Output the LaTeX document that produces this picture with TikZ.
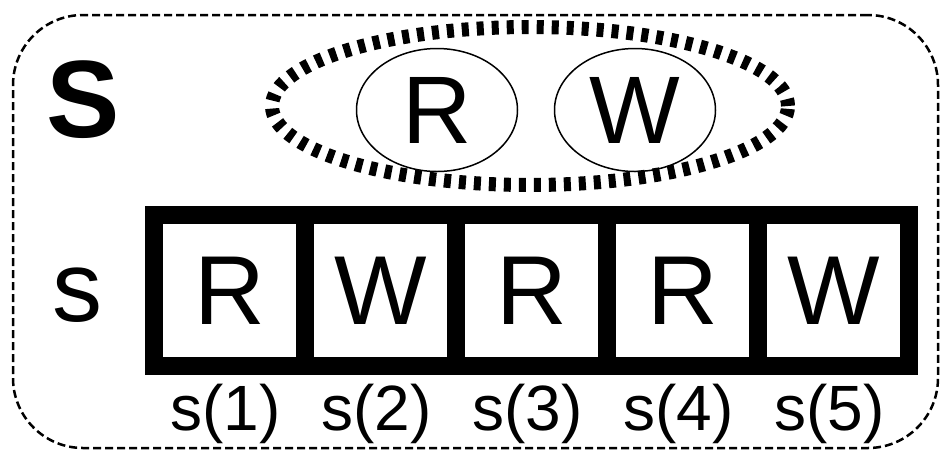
\documentclass[tikz,border=0pt]{standalone}
\usepackage{fontspec}
\setmainfont{Liberation Sans}
\usetikzlibrary{positioning,shapes.geometric}

\begin{document}
\begin{tikzpicture}[
    x=1pt, y=-1pt,
    % styles
    frame/.style={rectangle, draw, line width=2.5pt, dash pattern=on 8pt off 4pt, rounded corners=70pt, minimum width=925pt, minimum height=433pt, inner sep=0pt},
    group/.style={ellipse, draw, line width=14pt, dash pattern=on 7pt off 8pt, minimum width=516pt, minimum height=158pt, inner sep=0pt},
    member/.style={ellipse, draw, line width=1.5pt, minimum width=161pt, minimum height=123pt, inner sep=0pt, font=\fontsize{96pt}{96pt}\selectfont},
    cell/.style={rectangle, draw, line width=18pt, minimum size=151pt, inner sep=0pt, outer sep=0pt, font=\fontsize{98pt}{98pt}\selectfont},
    idx/.style={inner sep=0pt, font=\fontsize{64pt}{64pt}\selectfont}
]
\useasboundingbox (0,0) rectangle (940,451);

% outer dashed frame
\node[frame] (setframe) at (475.5,231.5) {};

% labels on the left
\node[inner sep=0pt, font=\fontsize{110pt}{110pt}\selectfont\bfseries] (bigS) at (83,100) {S};
\node[inner sep=0pt, font=\fontsize{100pt}{100pt}\selectfont] (smallS) at (77,295) {s};

% alphabet set
\node[group] (alphabet) at (530,106) {};
\node[member] (symR) at (437,110) {R};
\node[member] (symW) at (635,110) {W};

% string cells with indices
\foreach \ch [count=\i] in {R,W,R,R,W} {
    \node[cell] (cell\i) at ({229.5+151*(\i-1)},290.5) {\ch};
    \node[idx, anchor=base] (idx\i) at ([xshift=-4pt, yshift=-64pt]cell\i.south) {s(\i)};
}

\end{tikzpicture}
\end{document}
